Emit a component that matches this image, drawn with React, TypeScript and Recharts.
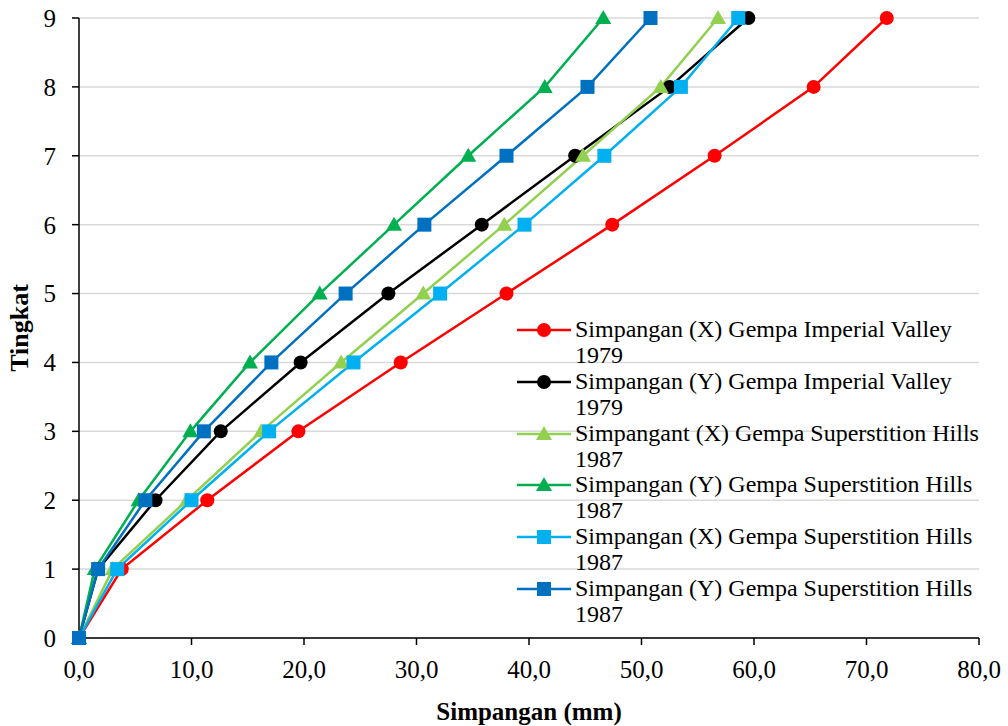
import { LineChart, Line, XAxis, YAxis, CartesianGrid } from "recharts";

const levels = [0, 1, 2, 3, 4, 5, 6, 7, 8, 9];
const xTicks = [0, 10, 20, 30, 40, 50, 60, 70, 80];

// simpangan per tingkat (mm)
const xImperial = [0, 3.8, 11.4, 19.5, 28.6, 38.0, 47.4, 56.5, 65.3, 71.8];
const yImperial = [0, 1.7, 6.8, 12.6, 19.7, 27.5, 35.8, 44.1, 52.5, 59.5];
const xSuperTri = [0, 3.0, 9.6, 16.2, 23.3, 30.6, 37.8, 44.8, 51.7, 56.8];
const ySuperTri = [0, 1.4, 5.3, 9.9, 15.2, 21.4, 28.0, 34.6, 41.4, 46.6];
const xSuperSq = [0, 3.4, 10.0, 16.9, 24.4, 32.1, 39.6, 46.7, 53.5, 58.6];
const ySuperSq = [0, 1.7, 5.9, 11.1, 17.1, 23.7, 30.7, 38.0, 45.2, 50.8];

const series = [
  { key: "xImp", name: "Simpangan (X) Gempa Imperial Valley 1979", values: xImperial, color: "#FF0000", shape: "circle" },
  { key: "yImp", name: "Simpangan (Y) Gempa Imperial Valley 1979", values: yImperial, color: "#000000", shape: "circle" },
  { key: "xSupT", name: "Simpangant (X) Gempa Superstition Hills 1987", values: xSuperTri, color: "#92D050", shape: "triangle" },
  { key: "ySupT", name: "Simpangan (Y) Gempa Superstition Hills 1987", values: ySuperTri, color: "#00B050", shape: "triangle" },
  { key: "xSupS", name: "Simpangan (X) Gempa Superstition Hills 1987", values: xSuperSq, color: "#00B0F0", shape: "square" },
  { key: "ySupS", name: "Simpangan (Y) Gempa Superstition Hills 1987", values: ySuperSq, color: "#0070C0", shape: "square" },
];

const data = levels.map((lv, i) => {
  const row: Record<string, number> = { level: lv };
  series.forEach((s) => {
    row[s.key] = s.values[i];
  });
  return row;
});

const FONT = '"Liberation Serif", Tinos, "Times New Roman", "DejaVu Serif", serif';

const Marker = ({ cx, cy, color, shape }: any) => {
  if (shape === "circle") return <circle cx={cx} cy={cy} r={7} fill={color} />;
  if (shape === "triangle")
    return <polygon points={`${cx},${cy - 8} ${cx + 8},${cy + 6} ${cx - 8},${cy + 6}`} fill={color} />;
  return <rect x={cx - 7} y={cy - 7} width={14} height={14} fill={color} />;
};

const fmt = (v: number) => v.toFixed(1).replace(".", ",");

export default function App() {
  return (
    <div style={{ position: "absolute", left: 0, top: 0, width: 1008, height: 726, background: "#fff", fontFamily: FONT }}>
      <LineChart
        width={1008}
        height={726}
        data={data}
        layout="vertical"
        margin={{ top: 18, right: 29, bottom: 0, left: 0 }}
        style={{ fontFamily: FONT }}
      >
        <CartesianGrid horizontal vertical={false} stroke="#D9D9D9" strokeWidth={1.5} />
        <XAxis
          type="number"
          domain={[0, 80]}
          ticks={xTicks}
          tickFormatter={fmt}
          height={88}
          stroke="#000"
          strokeWidth={1.5}
          tickSize={7}
          tickMargin={15}
          tick={{ fill: "#000", fontSize: 25, fontFamily: FONT }}
          label={{ value: "Simpangan (mm)", position: "insideBottom", offset: 6, fill: "#000", fontSize: 25, fontWeight: "bold", fontFamily: FONT }}
        />
        <YAxis
          type="number"
          dataKey="level"
          domain={[0, 9]}
          ticks={levels}
          reversed
          width={79}
          stroke="#000"
          strokeWidth={1.5}
          tickSize={7}
          tickMargin={16}
          tick={{ fill: "#000", fontSize: 25, fontFamily: FONT }}
          label={{ value: "Tingkat", angle: -90, position: "insideLeft", offset: 19, fill: "#000", fontSize: 26, fontWeight: "bold", fontFamily: FONT, style: { textAnchor: "middle" } }}
        />
        {series.map((s) => (
          <Line
            key={s.key}
            dataKey={s.key}
            name={s.name}
            stroke={s.color}
            strokeWidth={2.5}
            isAnimationActive={false}
            dot={(p: any) => <Marker key={`${s.key}-${p.index}`} cx={p.cx} cy={p.cy} color={s.color} shape={s.shape} />}
            activeDot={false}
          />
        ))}
      </LineChart>
      <div style={{ position: "absolute", left: 515, top: 316, width: 480 }}>
        {series.map((s) => {
          const cut = s.name.lastIndexOf(" ");
          return (
            <div key={s.key} style={{ display: "flex", alignItems: "flex-start", height: 51.8 }}>
              <svg width={58} height={26} style={{ flexShrink: 0 }}>
                <line x1={2} y1={14} x2={56} y2={14} stroke={s.color} strokeWidth={2.5} />
                <Marker cx={29} cy={14} color={s.color} shape={s.shape} />
              </svg>
              <div style={{ fontSize: 24, lineHeight: "26px", color: "#000", marginLeft: 2, whiteSpace: "nowrap" }}>
                <div>{s.name.slice(0, cut)}</div>
                <div>{s.name.slice(cut + 1)}</div>
              </div>
            </div>
          );
        })}
      </div>
    </div>
  );
}
